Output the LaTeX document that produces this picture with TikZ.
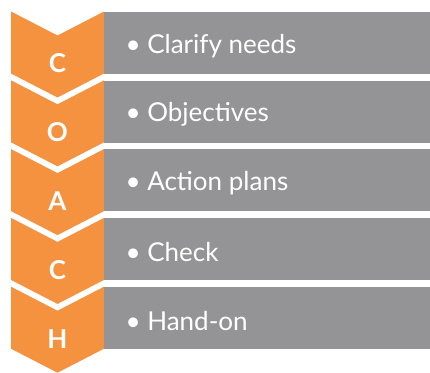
\documentclass[tikz,border=0pt]{standalone}
\usepackage{fontspec}
\setmainfont{Lato}
\usepackage{tikz}
\usetikzlibrary{positioning}

\definecolor{coachorange}{RGB}{244,146,64}
\definecolor{coachgrey}{RGB}{148,148,150}

\begin{document}
\begin{tikzpicture}[x=1pt,y=-1pt,
    letter/.style = {text=white, font=\fontsize{26}{26}\selectfont\bfseries},
    item/.style = {shape=rectangle, fill=coachgrey, minimum width=326pt,
      minimum height=62pt, inner sep=0pt},
    itemtext/.style = {text=white, font=\fontsize{26}{26}\selectfont, anchor=west}]
    \useasboundingbox (0,0) rectangle (430,372);
    \foreach \i/\l/\t in {0/C/Clarify needs, 1/O/Objectives, 2/A/Action plans,
        3/C/Check, 4/H/Hand-on} {
      \pgfmathsetmacro{\top}{11.5+68.8*\i}
      % chevron
      \fill[coachorange] (11,\top) -- (57.5,\top+24) -- (104,\top)
        -- (104,\top+62) -- (57.5,\top+86) -- (11,\top+62) -- cycle;
      \node[letter] (letter\i) at (57.5,\top+52) {\l};
      \node[item, anchor=north west] (box\i) at (104,\top) {};
      \node[itemtext] (text\i) at ([xshift=18pt,yshift=-3pt]box\i.west)
        {\textbullet\ \t};
    }
\end{tikzpicture}
\end{document}
